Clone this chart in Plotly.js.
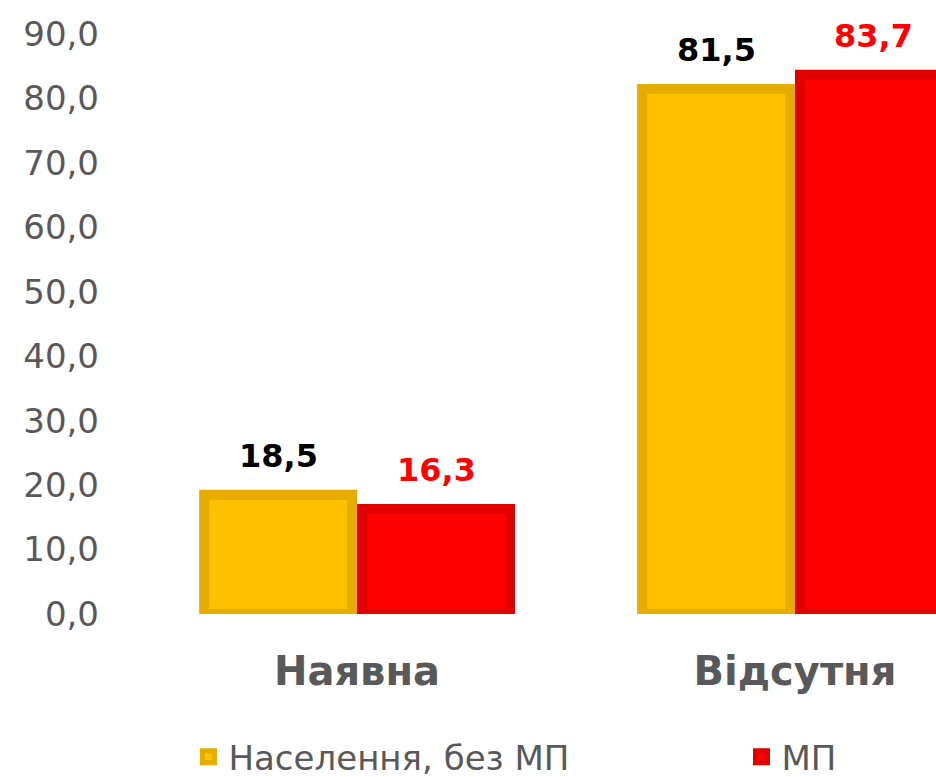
<!DOCTYPE html>
<html>
<head>
<meta charset="utf-8">
<script src="https://cdn.plot.ly/plotly-3.0.1.min.js"></script>
<style>
html,body{margin:0;padding:0;background:#fff;}
#chart{width:936px;height:777px;}
</style>
</head>
<body>
<div id="chart"></div>
<script>
const categories = ['Наявна', 'Відсутня'];
const seriesNames = ['Населення, без МП', 'МП'];
const populationValues = [18.5, 81.5];
const mpValues = [16.3, 83.7];
const yTickValues = [0, 10, 20, 30, 40, 50, 60, 70, 80, 90];

const fillColors = ['#FFC000', '#FF0000'];
const lineColors = ['#E6AC00', '#E00000'];
const labelColors = ['#000000', '#FF0000'];
const barWidth = 0.338;
const offsets = [-0.349, 0.0114];
const legendIds = ['legend', 'legend2'];
const allSeries = [populationValues, mpValues];

const fmt = v => v.toFixed(1).replace('.', ',');

const traces = allSeries.map((vals, s) => ({
  type: 'bar',
  name: seriesNames[s],
  legend: legendIds[s],
  x: categories,
  y: vals,
  width: vals.map(() => barWidth),
  offset: vals.map(() => offsets[s]),
  marker: {color: fillColors[s], line: {color: lineColors[s], width: 10}},
  hoverinfo: 'skip'
}));

const annotations = [];
allSeries.forEach((vals, s) => {
  vals.forEach((v, i) => {
    annotations.push({
      x: i + offsets[s] + barWidth / 2,
      y: v,
      xref: 'x', yref: 'y',
      text: fmt(v),
      showarrow: false,
      yanchor: 'middle',
      xanchor: 'center',
      yshift: 39,
      font: {family: 'DejaVu Sans', size: 32, color: labelColors[s], weight: 'bold'}
    });
  });
});

const legendFont = {family: 'DejaVu Sans', size: 34, color: '#595959'};

const layout = {
  width: 936,
  height: 777,
  margin: {l: 110, r: 0, t: 34, b: 163, autoexpand: false},
  paper_bgcolor: '#ffffff',
  plot_bgcolor: '#ffffff',
  separators: ', ',
  barmode: 'group',
  showlegend: true,
  legend: {
    orientation: 'h',
    x: 0.095, xanchor: 'left',
    y: -0.2466, yanchor: 'middle',
    font: legendFont,
    itemclick: false
  },
  legend2: {
    orientation: 'h',
    x: 0.7645, xanchor: 'left',
    y: -0.2466, yanchor: 'middle',
    font: legendFont,
    itemclick: false
  },
  xaxis: {
    type: 'category',
    range: [-0.564, 1.322],
    showgrid: false, zeroline: false, showline: false,
    ticks: '',
    automargin: false,
    ticklabelstandoff: 30,
    tickfont: {family: 'DejaVu Sans', size: 40, color: '#595959', weight: 'bold'}
  },
  yaxis: {
    range: [0, 90.02],
    tickvals: yTickValues,
    ticktext: yTickValues.map(fmt),
    showgrid: false, zeroline: false, showline: false,
    ticks: '',
    automargin: false,
    ticklabelstandoff: 10,
    tickfont: {family: 'DejaVu Sans', size: 34, color: '#595959'}
  },
  annotations: annotations
};

Plotly.newPlot('chart', traces, layout, {displayModeBar: false, staticPlot: true});
</script>
</body>
</html>
